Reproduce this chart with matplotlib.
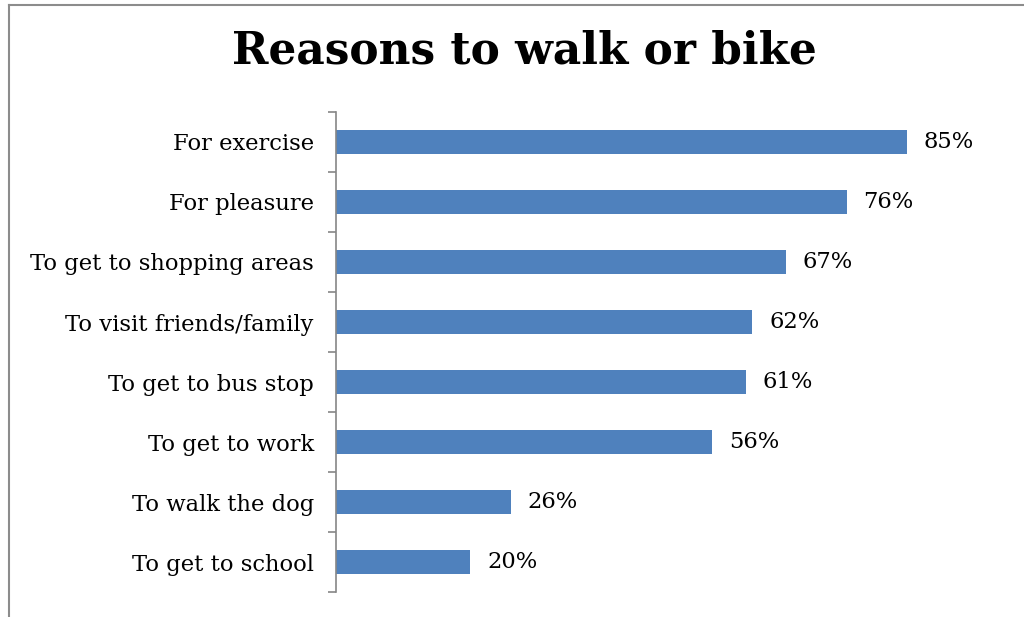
import matplotlib.pyplot as plt
from matplotlib.lines import Line2D

reasons = ["For exercise", "For pleasure", "To get to shopping areas",
           "To visit friends/family", "To get to bus stop", "To get to work",
           "To walk the dog", "To get to school"]
shares = [85, 76, 67, 62, 61, 56, 26, 20]

plt.rcParams['font.family'] = ['DejaVu Serif']

W, H = 1024, 617
fig = plt.figure(figsize=(W / 100, H / 100), dpi=100)

# axes placed in pixel coords: y-axis at x=336, rows from y=112 to y=592
left, right = 336, 336 + 90 * (907 - 336) / 85
top, bottom = 112, 592
ax = fig.add_axes([left / W, 1 - bottom / H, (right - left) / W, (bottom - top) / H])

pos = list(range(len(reasons)))
ax.barh(pos, shares, height=0.4, color='#4f81bd')
ax.set_ylim(len(reasons) - 0.5, -0.5)
ax.set_xlim(0, 90)

for p, v in zip(pos, shares):
    ax.annotate(f"{v}%", (v, p), xytext=(12, 0), textcoords='offset points',
                va='center', ha='left', fontsize=16.3)

ax.set_yticks(pos)
ax.set_yticklabels(reasons, fontsize=16.3)
ax.set_yticks([i - 0.5 for i in range(len(reasons) + 1)], minor=True)
ax.tick_params(axis='y', which='major', length=0, pad=16)
ax.tick_params(axis='y', which='minor', length=6, color='#868686', width=1.2)
ax.set_xticks([])
for s in ['top', 'right', 'bottom']:
    ax.spines[s].set_visible(False)
ax.spines['left'].set_color('#868686')
ax.spines['left'].set_linewidth(1.2)

fig.text(524 / W, 1 - 51 / H, "Reasons to walk or bike", ha='center', va='center',
         fontsize=31.6, fontweight='bold')

# chart frame (left and top edges visible)
fig.add_artist(Line2D([8.5 / W, 8.5 / W], [0, 1 - 4.5 / H], transform=fig.transFigure,
                      color='#8c8c8c', lw=1.5))
fig.add_artist(Line2D([8.5 / W, 1], [1 - 4.5 / H, 1 - 4.5 / H], transform=fig.transFigure,
                      color='#8c8c8c', lw=1.5))

fig.savefig('out.png', dpi=100, facecolor='white')
